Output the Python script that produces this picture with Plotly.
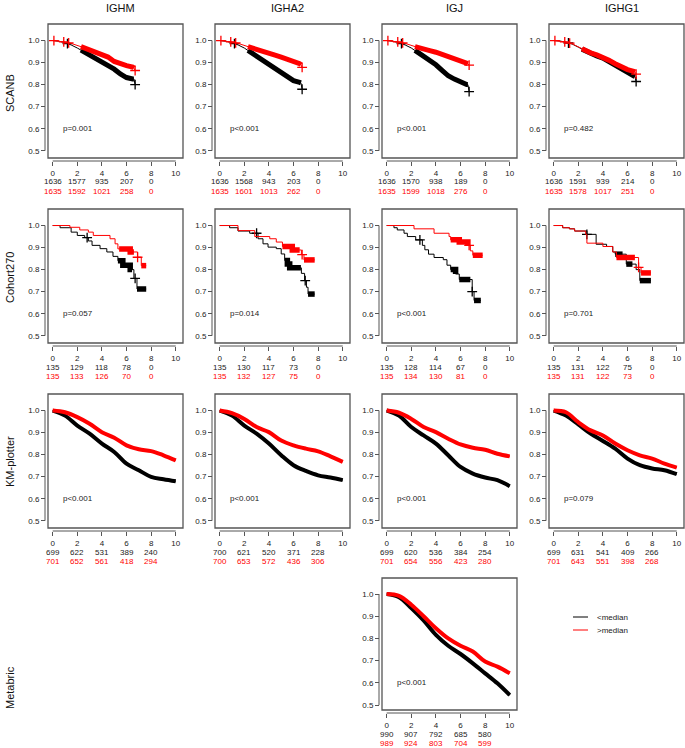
import numpy as np
import plotly.graph_objects as go

W, H = 685, 748
FONT = "Liberation Sans, Arial, sans-serif"
BLACK = "#000000"
RED = "#FF0000"
FRAME = "#555555"

row_names = ["SCANB", "Cohort270", "KM-plotter", "Metabric"]
col_names = ["IGHM", "IGHA2", "IGJ", "IGHG1"]
legend_labels = ["<median", ">median"]
x_tick_vals = [0, 2, 4, 6, 8, 10]
y_tick_vals = [0.5, 0.6, 0.7, 0.8, 0.9, 1.0]
risk_times = [0, 2, 4, 6, 8]

# ---------------- SCANB (time grid shared by both groups) ----------------
scanb_t = [0, 0.5, 1, 1.5, 2, 2.5, 3, 3.5, 4, 4.5, 5, 5.5, 6, 6.5, 6.6, 6.7]
scanb_ighm_low = [1.0, .997, .99, .98, .966, .95, .935, .921, .905, .888, .87, .848, .832, .826, .826, .80]
scanb_ighm_high = [1.0, .998, .993, .987, .978, .968, .958, .948, .94, .925, .905, .893, .886, .88, .875, .864]
scanb_igha2_low = [1.0, .997, .99, .98, .966, .948, .93, .912, .894, .873, .852, .835, .818, .81, .808, .779]
scanb_igha2_high = [1.0, .998, .993, .987, .978, .968, .96, .952, .943, .934, .925, .916, .906, .895, .89, .878]
scanb_igj_low = [1.0, .997, .99, .98, .966, .948, .928, .91, .89, .865, .84, .825, .81, .80, .80, .768]
scanb_igj_high = [1.0, .998, .993, .987, .978, .968, .96, .954, .947, .937, .927, .915, .905, .897, .895, .888]
scanb_ighg1_low = [1.0, .998, .992, .984, .97, .955, .94, .93, .92, .905, .888, .87, .855, .84, .836, .814]
scanb_ighg1_high = [1.0, .998, .993, .985, .972, .957, .944, .935, .925, .91, .895, .88, .868, .86, .857, .848]
scanb_censor_band = [[2.3, 6.6]]
scanb_marks_low = [1.2, 6.7]
scanb_marks_high = [0.1, 0.9, 1.3, 6.7]

# ---------------- Cohort270 (step curves) ----------------
coh_ighm_low_t = [0, 0.6, 1.5, 2.0, 2.6, 2.9, 3.2, 3.85, 4.4, 4.9, 5.3, 5.7, 6.3, 6.6, 6.85, 7.6]
coh_ighm_low_s = [1, .99, .97, .955, .945, .93, .91, .895, .88, .86, .84, .82, .80, .76, .712, .712]
coh_ighm_low_bands = [[5.3, 6.45], [6.85, 7.6]]
coh_ighm_low_marks = [2.8, 6.7]
coh_ighm_high_t = [0, 1.4, 2.2, 2.9, 3.3, 4.66, 5.07, 5.3, 6.3, 6.9, 7.2, 7.6]
coh_ighm_high_s = [1, .992, .98, .97, .955, .94, .917, .894, .88, .856, .818, .818]
coh_ighm_high_bands = [[5.4, 6.6], [7.2, 7.6]]
coh_ighm_high_marks = [6.9]

coh_igha2_low_t = [0, 0.81, 1.49, 2.44, 3.12, 3.52, 3.93, 4.6, 5.0, 5.28, 5.5, 5.69, 6.64, 6.9, 7.05, 7.18, 7.72]
coh_igha2_low_s = [1, .99, .975, .965, .94, .917, .902, .895, .871, .841, .825, .808, .783, .75, .72, .689, .689]
coh_igha2_low_bands = [[5.3, 6.6], [7.18, 7.72]]
coh_igha2_low_marks = [3.0, 6.95]
coh_igha2_high_t = [0, 1.49, 2.85, 4.07, 4.6, 5.1, 5.9, 6.64, 6.85, 7.72]
coh_igha2_high_s = [1, .977, .95, .94, .925, .905, .889, .868, .844, .844]
coh_igha2_high_bands = [[5.1, 6.5], [6.85, 7.72]]
coh_igha2_high_marks = [6.7]

coh_igj_low_t = [0, .59, .86, 1.41, 1.68, 2.36, 2.9, 3.1, 3.4, 3.85, 4.6, 4.9, 5.2, 5.6, 5.9, 6.95, 7.1, 7.65]
coh_igj_low_s = [1, .99, .98, .965, .95, .935, .91, .89, .87, .855, .845, .82, .80, .78, .755, .70, .66, .66]
coh_igj_low_bands = [[5.2, 5.6], [5.9, 6.8], [7.1, 7.65]]
coh_igj_low_marks = [2.7, 6.95]
coh_igj_high_t = [0, 2.22, 3.85, 5.07, 5.2, 5.9, 6.6, 6.8, 7.0, 7.8]
coh_igj_high_s = [1, .985, .965, .95, .935, .925, .91, .885, .865, .865]
coh_igj_high_bands = [[5.2, 6.6], [7.0, 7.8]]
coh_igj_high_marks = [6.7]

coh_ighg1_low_t = [0, .73, 1.28, 1.7, 2.7, 3.45, 4.3, 4.8, 5.0, 5.9, 6.7, 7.0, 7.9]
coh_ighg1_low_s = [1, .99, .985, .975, .96, .915, .905, .88, .87, .825, .80, .75, .75]
coh_ighg1_low_bands = [[5.0, 5.6], [5.9, 6.4], [7.0, 7.9]]
coh_ighg1_low_marks = [2.7]
coh_ighg1_high_t = [0, .73, 1.28, 1.7, 2.6, 2.7, 4.0, 4.8, 5.1, 6.9, 7.1, 7.9]
coh_ighg1_high_s = [1, .99, .985, .975, .96, .92, .905, .88, .855, .81, .785, .785]
coh_ighg1_high_bands = [[5.1, 6.6], [7.1, 7.9]]
coh_ighg1_high_marks = [6.9]

# ---------------- KM-plotter and Metabric (yearly readings) ----------------
year_t = [0, 1, 2, 3, 4, 5, 6, 7, 8, 9, 10]
km_ighm_low = [1.0, .977, .932, .895, .85, .812, .759, .729, .699, .688, .679]
km_ighm_high = [1.0, .992, .97, .94, .902, .877, .842, .824, .816, .797, .774]
km_igha2_low = [1.0, .977, .932, .895, .85, .797, .752, .726, .706, .696, .684]
km_igha2_high = [1.0, .988, .962, .925, .902, .864, .842, .827, .815, .792, .767]
km_igj_low = [1.0, .977, .925, .887, .85, .797, .744, .714, .696, .684, .657]
km_igj_high = [1.0, .99, .962, .925, .902, .872, .846, .831, .822, .804, .792]
km_ighg1_low = [1.0, .977, .937, .895, .862, .827, .782, .752, .737, .729, .711]
km_ighg1_high = [1.0, .992, .947, .91, .887, .85, .82, .797, .782, .759, .741]
metabric_igj_low = [1.0, .986, .937, .881, .816, .767, .73, .688, .643, .598, .545]
metabric_igj_high = [1.0, .992, .952, .90, .846, .80, .767, .741, .696, .673, .643]
full_censor_band = [[0, 10]]

# ---------------- numbers at risk ----------------
risk_scanb_ighm = ([1636, 1577, 935, 207, 0], [1635, 1592, 1021, 258, 0])
risk_scanb_igha2 = ([1636, 1568, 943, 203, 0], [1635, 1601, 1013, 262, 0])
risk_scanb_igj = ([1636, 1570, 938, 189, 0], [1635, 1599, 1018, 276, 0])
risk_scanb_ighg1 = ([1636, 1591, 939, 214, 0], [1635, 1578, 1017, 251, 0])
risk_coh_ighm = ([135, 129, 118, 78, 0], [135, 133, 126, 70, 0])
risk_coh_igha2 = ([135, 130, 117, 73, 0], [135, 132, 127, 75, 0])
risk_coh_igj = ([135, 128, 114, 67, 0], [135, 134, 130, 81, 0])
risk_coh_ighg1 = ([135, 131, 122, 75, 0], [135, 131, 122, 73, 0])
risk_km_ighm = ([699, 622, 531, 389, 240], [701, 652, 561, 418, 294])
risk_km_igha2 = ([700, 621, 520, 371, 228], [700, 653, 572, 436, 306])
risk_km_igj = ([699, 620, 536, 384, 254], [701, 654, 556, 423, 280])
risk_km_ighg1 = ([699, 631, 541, 409, 266], [701, 643, 551, 398, 268])
risk_metabric_igj = ([990, 907, 792, 685, 580], [989, 924, 803, 704, 599])

p_scanb = ["p=0.001", "p<0.001", "p<0.001", "p=0.482"]
p_coh = ["p=0.057", "p=0.014", "p<0.001", "p=0.701"]
p_km = ["p<0.001", "p<0.001", "p<0.001", "p=0.079"]
p_metabric = "p<0.001"


def curve(t, s, shape, bands, marks):
    return dict(t=t, s=s, shape=shape, bands=bands, marks=marks)


panels = []
scanb_low = [scanb_ighm_low, scanb_igha2_low, scanb_igj_low, scanb_ighg1_low]
scanb_high = [scanb_ighm_high, scanb_igha2_high, scanb_igj_high, scanb_ighg1_high]
scanb_risk = [risk_scanb_ighm, risk_scanb_igha2, risk_scanb_igj, risk_scanb_ighg1]
for c in range(4):
    panels.append(dict(row=0, col=c,
                       low=curve(scanb_t, scanb_low[c], "linear", scanb_censor_band, scanb_marks_low),
                       high=curve(scanb_t, scanb_high[c], "linear", scanb_censor_band, scanb_marks_high),
                       risk=scanb_risk[c], p=p_scanb[c]))

coh_low = [(coh_ighm_low_t, coh_ighm_low_s, coh_ighm_low_bands, coh_ighm_low_marks),
           (coh_igha2_low_t, coh_igha2_low_s, coh_igha2_low_bands, coh_igha2_low_marks),
           (coh_igj_low_t, coh_igj_low_s, coh_igj_low_bands, coh_igj_low_marks),
           (coh_ighg1_low_t, coh_ighg1_low_s, coh_ighg1_low_bands, coh_ighg1_low_marks)]
coh_high = [(coh_ighm_high_t, coh_ighm_high_s, coh_ighm_high_bands, coh_ighm_high_marks),
            (coh_igha2_high_t, coh_igha2_high_s, coh_igha2_high_bands, coh_igha2_high_marks),
            (coh_igj_high_t, coh_igj_high_s, coh_igj_high_bands, coh_igj_high_marks),
            (coh_ighg1_high_t, coh_ighg1_high_s, coh_ighg1_high_bands, coh_ighg1_high_marks)]
coh_risk = [risk_coh_ighm, risk_coh_igha2, risk_coh_igj, risk_coh_ighg1]
for c in range(4):
    panels.append(dict(row=1, col=c,
                       low=curve(coh_low[c][0], coh_low[c][1], "hv", coh_low[c][2], coh_low[c][3]),
                       high=curve(coh_high[c][0], coh_high[c][1], "hv", coh_high[c][2], coh_high[c][3]),
                       risk=coh_risk[c], p=p_coh[c]))

km_low = [km_ighm_low, km_igha2_low, km_igj_low, km_ighg1_low]
km_high = [km_ighm_high, km_igha2_high, km_igj_high, km_ighg1_high]
km_risk = [risk_km_ighm, risk_km_igha2, risk_km_igj, risk_km_ighg1]
for c in range(4):
    panels.append(dict(row=2, col=c,
                       low=curve(year_t, km_low[c], "spline", full_censor_band, []),
                       high=curve(year_t, km_high[c], "spline", full_censor_band, []),
                       risk=km_risk[c], p=p_km[c]))

panels.append(dict(row=3, col=2,
                   low=curve(year_t, metabric_igj_low, "spline", full_censor_band, []),
                   high=curve(year_t, metabric_igj_high, "spline", full_censor_band, []),
                   risk=risk_metabric_igj, p=p_metabric))

# ---------------- layout geometry (pixels) ----------------
COL_LEFT = [48, 215, 382, 549]
ROW_TOP = [24, 209, 394, 578]
BOX_W = 135
BOX_H = [134, 134, 134, 132]
BAND_W = [5.0, 5.5, 4.0, 4.0]
X_RANGE = [-0.38, 10.59]
Y_RANGE = [0.467, 1.075]
ROW_LABEL_Y = [93, 278, 462, 688]


def px_x(p):
    return p / W


def px_y(p):
    return 1 - p / H


def value_at(t, s, x, shape):
    t = np.asarray(t, float)
    s = np.asarray(s, float)
    if shape == "hv":
        i = int(np.searchsorted(t, x, side="right") - 1)
        return float(s[max(i, 0)])
    return float(np.interp(x, t, s))


def segment(t, s, a, b, shape):
    xs = [a] + [tk for tk in t if a < tk < b] + [b]
    return xs, [value_at(t, s, x, shape) for x in xs]


fig = go.Figure()
shapes = []
annotations = []

for n, pnl in enumerate(panels, start=1):
    xa = "x" if n == 1 else f"x{n}"
    ya = "y" if n == 1 else f"y{n}"
    left = COL_LEFT[pnl["col"]]
    top = ROW_TOP[pnl["row"]]
    bottom = top + BOX_H[pnl["row"]]
    yr = [Y_RANGE[0], Y_RANGE[1]]
    if pnl["row"] == 3:
        yr = [0.478, 1.072]

    band_w = BAND_W[pnl["row"]]
    for key, color in (("low", BLACK), ("high", RED)):
        cv = pnl[key]
        fig.add_trace(go.Scatter(x=cv["t"], y=cv["s"], mode="lines",
                                 line=dict(color=color, width=1, shape=cv["shape"]),
                                 xaxis=xa, yaxis=ya, showlegend=False, hoverinfo="skip"))
        for a, b in cv["bands"]:
            bx, by = segment(cv["t"], cv["s"], a, b, cv["shape"])
            fig.add_trace(go.Scatter(x=bx, y=by, mode="lines",
                                     line=dict(color=color, width=band_w, shape=cv["shape"]),
                                     xaxis=xa, yaxis=ya, showlegend=False, hoverinfo="skip"))
        if cv["marks"]:
            fig.add_trace(go.Scatter(x=cv["marks"],
                                     y=[value_at(cv["t"], cv["s"], m, cv["shape"]) for m in cv["marks"]],
                                     mode="markers",
                                     marker=dict(symbol="cross-thin", size=7, line=dict(color=color, width=1.3)),
                                     xaxis=xa, yaxis=ya, showlegend=False, hoverinfo="skip"))

    x_pos = px_y(bottom + 3)
    y_pos = px_x(left - 3)
    fig.layout[("xaxis" if n == 1 else f"xaxis{n}")] = dict(
        domain=[px_x(left), px_x(left + BOX_W)], anchor="free", position=x_pos,
        range=X_RANGE, tickvals=x_tick_vals, ticks="outside", ticklen=4, tickwidth=1,
        tickcolor=FRAME, showline=False, showgrid=False, zeroline=False,
        tickfont=dict(family=FONT, size=8, color="#222222"), fixedrange=True)
    fig.layout[("yaxis" if n == 1 else f"yaxis{n}")] = dict(
        domain=[px_y(bottom), px_y(top)], anchor="free", position=y_pos,
        range=yr, tickvals=y_tick_vals, tickformat=".1f", ticks="outside", ticklen=4,
        tickwidth=1, tickcolor=FRAME, showline=False, showgrid=False, zeroline=False,
        tickfont=dict(family=FONT, size=8, color="#222222"), fixedrange=True)

    # frame
    shapes.append(dict(type="rect", xref="paper", yref="paper",
                       x0=px_x(left), x1=px_x(left + BOX_W), y0=px_y(bottom), y1=px_y(top),
                       line=dict(color=FRAME, width=1.3), fillcolor="rgba(0,0,0,0)"))
    # axis lines spanning the tick range (R style)
    shapes.append(dict(type="line", xref=xa, yref="paper", x0=x_tick_vals[0], x1=x_tick_vals[-1],
                       y0=x_pos, y1=x_pos, line=dict(color=FRAME, width=1)))
    shapes.append(dict(type="line", xref="paper", yref=ya, x0=y_pos, x1=y_pos,
                       y0=y_tick_vals[0], y1=y_tick_vals[-1], line=dict(color=FRAME, width=1)))

    # p value
    annotations.append(dict(x=0.7, y=0.6, xref=xa, yref=ya, text=pnl["p"], showarrow=False,
                            xanchor="left", yanchor="middle",
                            font=dict(family=FONT, size=8, color="#222222")))
    # numbers at risk
    for vals, color, dy in ((pnl["risk"][0], "#222222", 24), (pnl["risk"][1], RED, 33)):
        for tv, v in zip(risk_times, vals):
            annotations.append(dict(x=tv, y=px_y(bottom + dy), xref=xa, yref="paper", text=str(v),
                                    showarrow=False, xanchor="center", yanchor="middle",
                                    font=dict(family=FONT, size=8, color=color)))

# column titles
for c, name in enumerate(col_names):
    annotations.append(dict(x=px_x(COL_LEFT[c] + BOX_W / 2 + 5), y=px_y(8), xref="paper", yref="paper",
                            text=name, showarrow=False, xanchor="center", yanchor="middle",
                            font=dict(family=FONT, size=11, color="#111111")))
# row titles
for r, name in enumerate(row_names):
    annotations.append(dict(x=px_x(10), y=px_y(ROW_LABEL_Y[r]), xref="paper", yref="paper",
                            text=name, textangle=-90, showarrow=False, xanchor="center", yanchor="middle",
                            font=dict(family=FONT, size=11, color="#111111")))

# legend
for i, (lab, color) in enumerate(zip(legend_labels, (BLACK, RED))):
    ly = 617 + 13 * i
    shapes.append(dict(type="line", xref="paper", yref="paper", x0=px_x(573), x1=px_x(588),
                       y0=px_y(ly), y1=px_y(ly), line=dict(color=color, width=1)))
    annotations.append(dict(x=px_x(595), y=px_y(ly), xref="paper", yref="paper", text=lab,
                            showarrow=False, xanchor="left", yanchor="middle",
                            font=dict(family=FONT, size=8, color="#222222")))

fig.update_layout(width=W, height=H, margin=dict(l=0, r=0, t=0, b=0),
                  paper_bgcolor="white", plot_bgcolor="white",
                  shapes=shapes, annotations=annotations, showlegend=False)

fig.write_html("out.html",
               config={"displayModeBar": False, "staticPlot": True},
               post_script="document.body.style.margin='0px';document.body.style.padding='0px';")
